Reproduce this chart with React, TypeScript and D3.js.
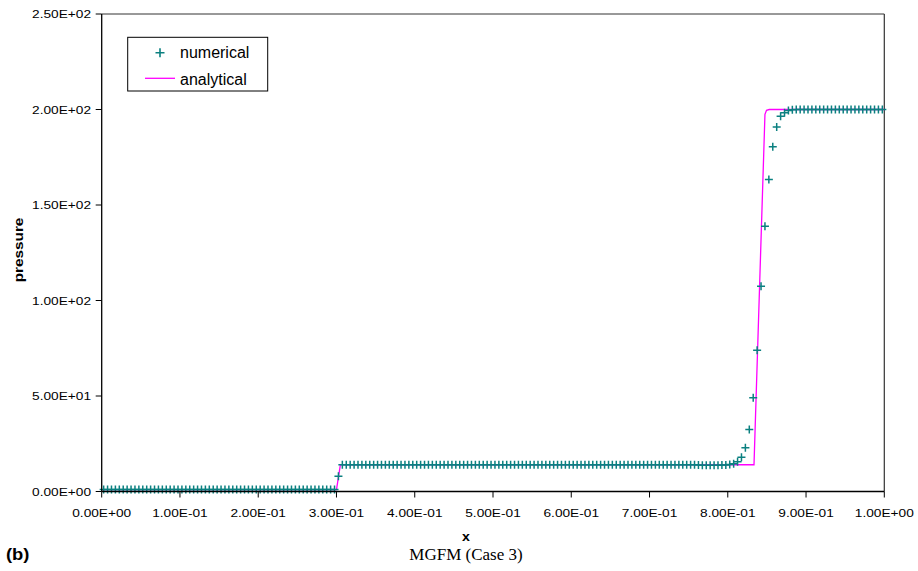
import React from "react";
import * as d3 from "d3";

// Pressure profile along the tube: numerical cell values vs. exact solution
const CELLS = 200;
const numericalPressure: number[] = [
  1, 1, 1, 1, 1, 1, 1, 1, 1, 1, 1, 1, 1, 1, 1, 1, 1, 1, 1, 1,
  1, 1, 1, 1, 1, 1, 1, 1, 1, 1, 1, 1, 1, 1, 1, 1, 1, 1, 1, 1,
  1, 1, 1, 1, 1, 1, 1, 1, 1, 1, 1, 1, 1, 1, 1, 1, 1, 1, 1, 1,
  8, 14, 14, 14, 14, 14, 14, 14, 14, 14, 14, 14, 14, 14, 14, 14, 14, 14, 14, 14,
  14, 14, 14, 14, 14, 14, 14, 14, 14, 14, 14, 14, 14, 14, 14, 14, 14, 14, 14, 14,
  14, 14, 14, 14, 14, 14, 14, 14, 14, 14, 14, 14, 14, 14, 14, 14, 14, 14, 14, 14,
  14, 14, 14, 14, 14, 14, 14, 14, 14, 14, 14, 14, 14, 14, 14, 14, 14, 14, 14, 14,
  14, 14, 14, 14, 14, 14, 14, 14, 14, 14, 14, 14, 13.9, 13.8, 13.8, 13.8, 13.8, 13.8, 13.9, 13.9,
  14.1, 14.5, 15.6, 17.9, 22.9, 32.5, 49.1, 73.9, 107.4, 138.9, 163.4, 180.5, 190.9, 196.5, 198.3, 199.5, 199.9, 200, 200, 200,
  200, 200, 200, 200, 200, 200, 200, 200, 200, 200, 200, 200, 200, 200, 200, 200, 200, 200, 200, 200,
];

const analyticalX = [0, 0.3, 0.305, 0.8335, 0.8475, 0.8495, 0.853, 1];
const analyticalP = [1, 1, 14, 14, 197.5, 199.6, 200, 200];

const xTickValues = [0, 0.1, 0.2, 0.3, 0.4, 0.5, 0.6, 0.7, 0.8, 0.9, 1.0];
const xTickLabels = [
  "0.00E+00", "1.00E-01", "2.00E-01", "3.00E-01", "4.00E-01", "5.00E-01",
  "6.00E-01", "7.00E-01", "8.00E-01", "9.00E-01", "1.00E+00",
];
const yTickValues = [0, 50, 100, 150, 200, 250];
const yTickLabels = ["0.00E+00", "5.00E+01", "1.00E+02", "1.50E+02", "2.00E+02", "2.50E+02"];

const W = 918;
const H = 571;
const plot = { left: 101.7, right: 884.3, top: 14, bottom: 491.5 };

const TEAL = "#0b8080";
const MAGENTA = "#ff00ff";
const SANS = "'Liberation Sans', Arial, sans-serif";
const SERIF = "'Liberation Serif', 'Times New Roman', serif";

type STProps = {
  x: number;
  y: number;
  sx?: number;
  rotate?: number;
  anchor?: "start" | "middle" | "end";
  size: number;
  weight?: string;
  family?: string;
  dy?: string;
  children: React.ReactNode;
};

function StretchText({ x, y, sx = 1, rotate = 0, anchor = "start", size, weight = "normal", family = SANS, dy, children }: STProps) {
  return (
    <text
      transform={`translate(${x},${y}) rotate(${rotate}) scale(${sx},1)`}
      textAnchor={anchor}
      fontSize={size}
      fontWeight={weight}
      fontFamily={family}
      dy={dy}
      fill="#000"
    >
      {children}
    </text>
  );
}

export default function App() {
  const x = d3.scaleLinear().domain([0, 1]).range([plot.left, plot.right]);
  const y = d3.scaleLinear().domain([0, 250]).range([plot.bottom, plot.top]);

  const numerical = numericalPressure.map((p, i) => ({ x: (i + 0.5) / CELLS, p }));
  const analytical = analyticalX.map((xv, i) => ({ x: xv, p: analyticalP[i] }));

  const line = d3
    .line<{ x: number; p: number }>()
    .x((d) => x(d.x))
    .y((d) => y(d.p));

  const plus = (cx: number, cy: number, r: number) =>
    `M${cx - r},${cy}H${cx + r}M${cx},${cy - r}V${cy + r}`;

  const tickSx = 1.18;

  return (
    <svg
      width={W}
      height={H}
      viewBox={`0 0 ${W} ${H}`}
      style={{ position: "absolute", left: 0, top: 0, background: "#fff" }}
    >
      <rect x={0} y={0} width={W} height={H} fill="#fff" />

      {/* plot frame */}
      <line x1={plot.left} x2={plot.right} y1={plot.top} y2={plot.top} stroke="#333" strokeWidth={1} />
      <line x1={plot.right} x2={plot.right} y1={plot.top} y2={plot.bottom} stroke="#333" strokeWidth={1.2} />

      {/* analytical solution */}
      <path d={line(analytical) ?? ""} fill="none" stroke={MAGENTA} strokeWidth={1.3} />

      {/* numerical cell values */}
      <g stroke={TEAL} strokeWidth={1.5}>
        {numerical.map((d, i) => (
          <path key={i} d={plus(x(d.x), y(d.p), 4)} />
        ))}
      </g>

      {/* axes */}
      <line x1={plot.left} x2={plot.right} y1={plot.bottom} y2={plot.bottom} stroke="#000" strokeWidth={1.3} />
      <line x1={plot.left} x2={plot.left} y1={plot.top} y2={plot.bottom} stroke="#000" strokeWidth={1.3} />

      {xTickValues.map((v, i) => (
        <g key={`xt${i}`}>
          <line x1={x(v)} x2={x(v)} y1={plot.bottom} y2={plot.bottom + 6} stroke="#000" strokeWidth={1} />
          <StretchText x={x(v)} y={516.5} sx={tickSx} anchor="middle" size={11.6}>
            {xTickLabels[i]}
          </StretchText>
        </g>
      ))}

      {yTickValues.map((v, i) => (
        <g key={`yt${i}`}>
          <line x1={plot.left - 6} x2={plot.left} y1={y(v)} y2={y(v)} stroke="#000" strokeWidth={1} />
          <StretchText x={91} y={y(v)} sx={tickSx} anchor="end" size={11.6} dy="0.36em">
            {yTickLabels[i]}
          </StretchText>
        </g>
      ))}

      {/* axis titles */}
      <StretchText x={22.5} y={250} rotate={-90} sx={1.18} anchor="middle" size={13} weight="bold">
        pressure
      </StretchText>
      <StretchText x={466} y={541} sx={1.18} anchor="middle" size={12} weight="bold">
        x
      </StretchText>

      {/* legend */}
      <rect x={127.7} y={37.3} width={140} height={53.7} fill="#fff" stroke="#000" strokeWidth={1} />
      <path d={plus(160, 52.7, 4.5)} stroke={TEAL} strokeWidth={1.6} />
      <StretchText x={180} y={58.3} size={16}>
        numerical
      </StretchText>
      <line x1={145} x2={175} y1={78.3} y2={78.3} stroke={MAGENTA} strokeWidth={1.3} />
      <StretchText x={180} y={84.5} size={16}>
        analytical
      </StretchText>

      {/* caption */}
      <StretchText x={6} y={560} sx={1.15} size={16} weight="bold">
        (b)
      </StretchText>
      <StretchText x={466} y={560} anchor="middle" size={17} family={SERIF}>
        MGFM (Case 3)
      </StretchText>
    </svg>
  );
}
